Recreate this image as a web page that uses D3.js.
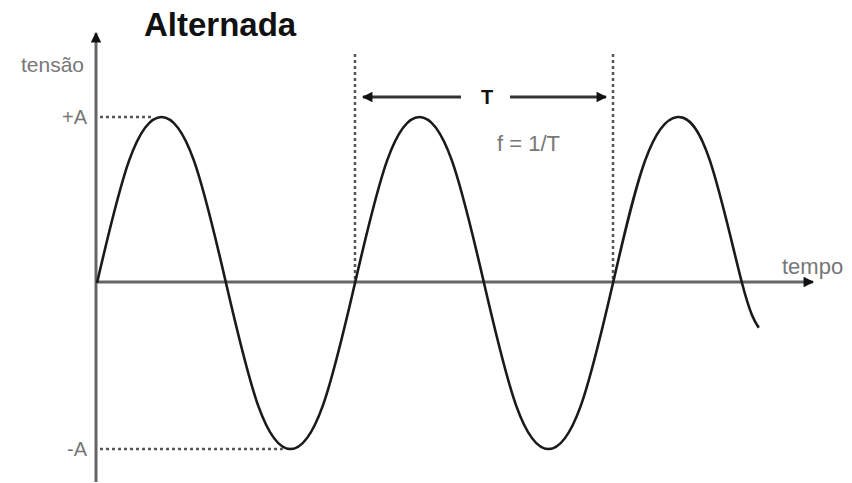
<!DOCTYPE html>
<html>
<head>
<meta charset="utf-8">
<script src="https://cdn.jsdelivr.net/npm/d3@7"></script>
<style>
  body { margin: 0; background: #fff; }
  svg { display: block; }
  text { font-family: "Liberation Sans", Arial, sans-serif; }
</style>
</head>
<body>
<div id="graph"></div>
<script>
// time in periods (T = 1), tension in units of A
var waveT = [0, 0.125, 0.25, 0.375, 0.5, 0.625, 0.75, 0.875, 1,
             1.125, 1.25, 1.375, 1.5, 1.625, 1.75, 1.875, 2,
             2.125, 2.25, 2.375, 2.5, 2.565];
var waveV = [0, 0.74, 1, 0.74, 0, -0.74, -1, -0.74, 0,
             0.74, 1, 0.74, 0, -0.74, -1, -0.74, 0,
             0.74, 1, 0.74, 0, -0.27];
var periodMarks = [1, 2];
var levelLabels = ["+A", "-A"];
var levelValues = [1, -1];
var levelReach = [0.22, 0.72];   // where the dotted guide meets the curve
var title = "Alternada";
var yLabel = "tensão";
var xLabel = "tempo";
var periodLabel = "T";
var freqLabel = "f = 1/T";

var width = 852, height = 483;

var xScale = d3.scaleLinear().domain([0, 1]).range([97, 355]);
var yScale = d3.scaleLinear().domain([-1, 1]).range([449, 117]);

var svg = d3.select("#graph")
    .append("svg")
    .attr("width", width)
    .attr("height", height);

var defs = svg.append("defs");
defs.append("marker")
    .attr("id", "head")
    .attr("viewBox", "0 0 10 10")
    .attr("refX", 9).attr("refY", 5)
    .attr("markerWidth", 4.5).attr("markerHeight", 3.5)
    .attr("markerUnits", "strokeWidth")
    .attr("orient", "auto-start-reverse")
    .append("path")
    .attr("d", "M0,0 L10,5 L0,10 Z")
    .attr("fill", "#111");

var x0 = xScale(0), y0 = yScale(0);

// dotted guides for +A / -A
svg.selectAll(".guide")
    .data(levelValues)
    .enter()
    .append("line")
    .attr("class", "guide")
    .attr("x1", x0 + 3)
    .attr("x2", function(d, i) { return xScale(levelReach[i]); })
    .attr("y1", function(d) { return yScale(d); })
    .attr("y2", function(d) { return yScale(d); })
    .attr("stroke", "#555")
    .attr("stroke-width", 2.5)
    .attr("stroke-dasharray", "3,3");

// dotted verticals marking one period
svg.selectAll(".mark")
    .data(periodMarks)
    .enter()
    .append("line")
    .attr("class", "mark")
    .attr("x1", function(d) { return xScale(d); })
    .attr("x2", function(d) { return xScale(d); })
    .attr("y1", 54)
    .attr("y2", y0)
    .attr("stroke", "#555")
    .attr("stroke-width", 2.5)
    .attr("stroke-dasharray", "3,3");

// axes
svg.append("line")
    .attr("x1", x0 - 1).attr("x2", x0 - 1)
    .attr("y1", 482).attr("y2", 33)
    .attr("stroke", "#666").attr("stroke-width", 3)
    .attr("marker-end", "url(#head)");
svg.append("line")
    .attr("x1", x0 - 1).attr("x2", 813)
    .attr("y1", y0 - 1).attr("y2", y0 - 1)
    .attr("stroke", "#666").attr("stroke-width", 3)
    .attr("marker-end", "url(#head)");

// wave
var line = d3.line()
    .x(function(d, i) { return xScale(waveT[i]); })
    .y(function(d) { return yScale(d); })
    .curve(d3.curveNatural);
svg.append("path")
    .datum(waveV)
    .attr("d", line)
    .attr("fill", "none")
    .attr("stroke", "#1a1a1a")
    .attr("stroke-width", 2.6);

// period arrow
var pa = xScale(periodMarks[0]), pb = xScale(periodMarks[1]);
var pmid = (pa + pb) / 2;
svg.append("line")
    .attr("x1", pmid - 23).attr("x2", pa + 8)
    .attr("y1", 97).attr("y2", 97)
    .attr("stroke", "#333").attr("stroke-width", 3)
    .attr("marker-end", "url(#head)");
svg.append("line")
    .attr("x1", pmid + 26).attr("x2", pb - 7)
    .attr("y1", 97).attr("y2", 97)
    .attr("stroke", "#333").attr("stroke-width", 3)
    .attr("marker-end", "url(#head)");
svg.append("text")
    .attr("x", pmid + 3)
    .attr("y", 104)
    .attr("text-anchor", "middle")
    .style("font-size", "20px")
    .style("font-weight", "bold")
    .attr("fill", "#111")
    .text(periodLabel);

svg.append("text")
    .attr("x", 497)
    .attr("y", 151)
    .style("font-size", "22px")
    .attr("fill", "#777")
    .text(freqLabel);

// level labels
svg.selectAll(".lvl")
    .data(levelValues)
    .enter()
    .append("text")
    .attr("class", "lvl")
    .attr("x", 87)
    .attr("y", function(d) { return yScale(d) + 7; })
    .attr("text-anchor", "end")
    .style("font-size", "20px")
    .attr("fill", "#777")
    .text(function(d, i) { return levelLabels[i]; });

// axis labels
svg.append("text")
    .attr("x", 84)
    .attr("y", 72)
    .attr("text-anchor", "end")
    .style("font-size", "21px")
    .attr("fill", "#777")
    .text(yLabel);
svg.append("text")
    .attr("x", 782)
    .attr("y", 274)
    .style("font-size", "22px")
    .attr("fill", "#777")
    .text(xLabel);

// title
svg.append("text")
    .attr("x", 144)
    .attr("y", 36)
    .style("font-size", "33px")
    .style("font-weight", "bold")
    .attr("fill", "#111")
    .text(title);
</script>
</body>
</html>
